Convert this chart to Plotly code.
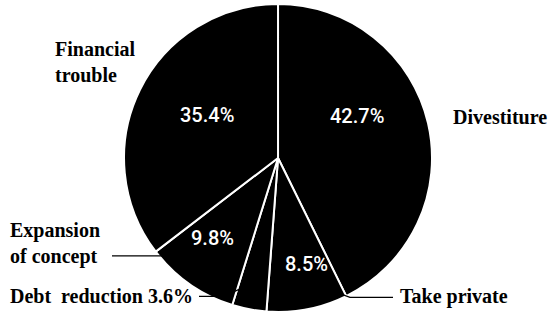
import plotly.graph_objects as go

categories = ["Divestiture", "Take private", "Debt reduction", "Expansion of concept", "Financial trouble"]
values = [42.7, 8.5, 3.6, 9.8, 35.4]

fig = go.Figure(go.Pie(
    labels=categories, values=values, sort=False, direction="clockwise", rotation=0,
    marker=dict(colors=["#000000"] * len(values), line=dict(color="#ffffff", width=2)),
    textinfo="none",
    domain=dict(x=[0.011, 1.0], y=[0, 1]),
    showlegend=False, hoverinfo="label+value",
))

serif = dict(family="Liberation Serif, serif", size=20, color="#000000")
sans = dict(family="Roboto, sans-serif", size=20, color="#ffffff", weight=500)

def ann(x, y, text, xanchor="left", font=serif):
    fig.add_annotation(x=x / 550, y=1 - y / 335, xref="paper", yref="paper", text=text,
                       showarrow=False, xanchor=xanchor, yanchor="middle", align="left", font=font)

# category labels (outside)
ann(53, 63, "<b>Financial<br>trouble</b>")
ann(451, 123, "<b>Divestiture</b>")
ann(8, 260, "<b>Expansion<br>of concept</b>")
ann(8, 318, f"<b>Debt&nbsp; reduction {values[2]:.1f}%</b>")
ann(398, 318, "<b>Take private</b>")

# percentage labels (inside)
ann(207, 121, f"{values[4]:.1f}%", "center", sans)
ann(357, 122, f"{values[0]:.1f}%", "center", sans)
ann(212, 255, f"{values[3]:.1f}%", "center", sans)
ann(306, 283, f"{values[1]:.1f}%", "center", sans)

def line(pts):
    path = "M " + " L ".join(f"{x / 550},{1 - y / 335}" for x, y in pts)
    fig.add_shape(type="path", path=path, xref="paper", yref="paper", line=dict(color="#000", width=1.2))

line([(112, 274), (176, 274)])
line([(199, 318), (223, 318), (242, 309)])
line([(322, 308), (350, 319), (393, 319)])

fig.update_layout(width=550, height=335, margin=dict(l=0, r=0, t=4, b=23),
                  paper_bgcolor="white", plot_bgcolor="white")
fig.write_html("out.html")
